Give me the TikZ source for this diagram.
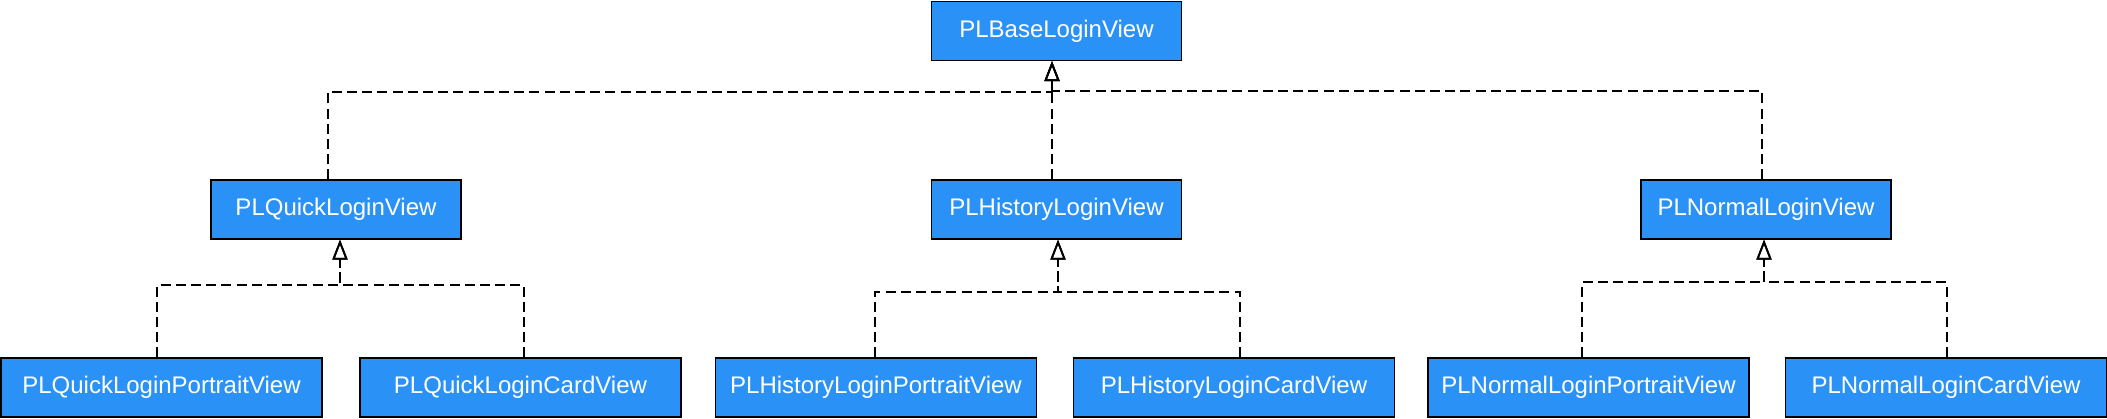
\documentclass[tikz,border=0pt]{standalone}
\usepackage{fontspec}
\setmainfont{Liberation Sans}
\usetikzlibrary{arrows.meta}
\definecolor{boxblue}{RGB}{42,146,246}
\tikzset{
  cls/.style={draw=black, line width=0.65pt, fill=boxblue, text=white, font=\fontsize{12}{14}\selectfont,
    minimum height=29.5pt, inner sep=0pt, anchor=center},
  midbox/.style={cls, minimum width=125pt},
  lowbox/.style={cls, minimum width=160.5pt},
  dep/.style={draw=black, line width=0.9pt, dash pattern=on 5pt off 2.6pt,
    -{Triangle[open, length=10pt, width=7.5pt, line width=0.9pt]}}
}
\begin{document}
\begin{tikzpicture}[x=0.5pt, y=-0.5pt]
\useasboundingbox (0,0) rectangle (2107,418);
% nodes
\node[midbox] (base) at (1056.5,31) {PLBaseLoginView};
\node[midbox] (quick) at (336,209.5) {PLQuickLoginView};
\node[midbox] (history) at (1056.5,209.5) {PLHistoryLoginView};
\node[midbox] (normal) at (1766,209.5) {PLNormalLoginView};
\node[lowbox] (qp) at (161.5,387.5) {PLQuickLoginPortraitView};
\node[lowbox] (qc) at (520.5,387.5) {PLQuickLoginCardView};
\node[lowbox] (hp) at (876,387.5) {PLHistoryLoginPortraitView};
\node[lowbox] (hc) at (1234,387.5) {PLHistoryLoginCardView};
\node[lowbox] (np) at (1588.5,387.5) {PLNormalLoginPortraitView};
\node[lowbox] (nc) at (1946,387.5) {PLNormalLoginCardView};
% routing points
\coordinate (jb) at (1052,92);
\coordinate (jq) at (328,92);
\coordinate (jn) at (1762,91);
\coordinate (aq) at (340,285);
\coordinate (cql) at (157,285);
\coordinate (cqr) at (524,285);
\coordinate (ah) at (1058,292);
\coordinate (chl) at (875,292);
\coordinate (chr) at (1240,292);
\coordinate (an) at (1764,282);
\coordinate (cnl) at (1582,282);
\coordinate (cnr) at (1947,282);
% level 1 edges
\draw[dep] (quick.north -| jq) -- (jq) -- (jb) -- (base.south -| jb);
\draw[dep] (history.north -| jb) -- (base.south -| jb);
\draw[dep] (normal.north -| jn) -- (jn) -- (jn -| jb) -- (base.south -| jb);
% level 2 edges
\draw[dep] (qp.north -| cql) -- (cql) -- (aq) -- (quick.south -| aq);
\draw[dep] (qc.north -| cqr) -- (cqr) -- (aq) -- (quick.south -| aq);
\draw[dep] (hp.north -| chl) -- (chl) -- (ah) -- (history.south -| ah);
\draw[dep] (hc.north -| chr) -- (chr) -- (ah) -- (history.south -| ah);
\draw[dep] (np.north -| cnl) -- (cnl) -- (an) -- (normal.south -| an);
\draw[dep] (nc.north -| cnr) -- (cnr) -- (an) -- (normal.south -| an);
\end{tikzpicture}
\end{document}
